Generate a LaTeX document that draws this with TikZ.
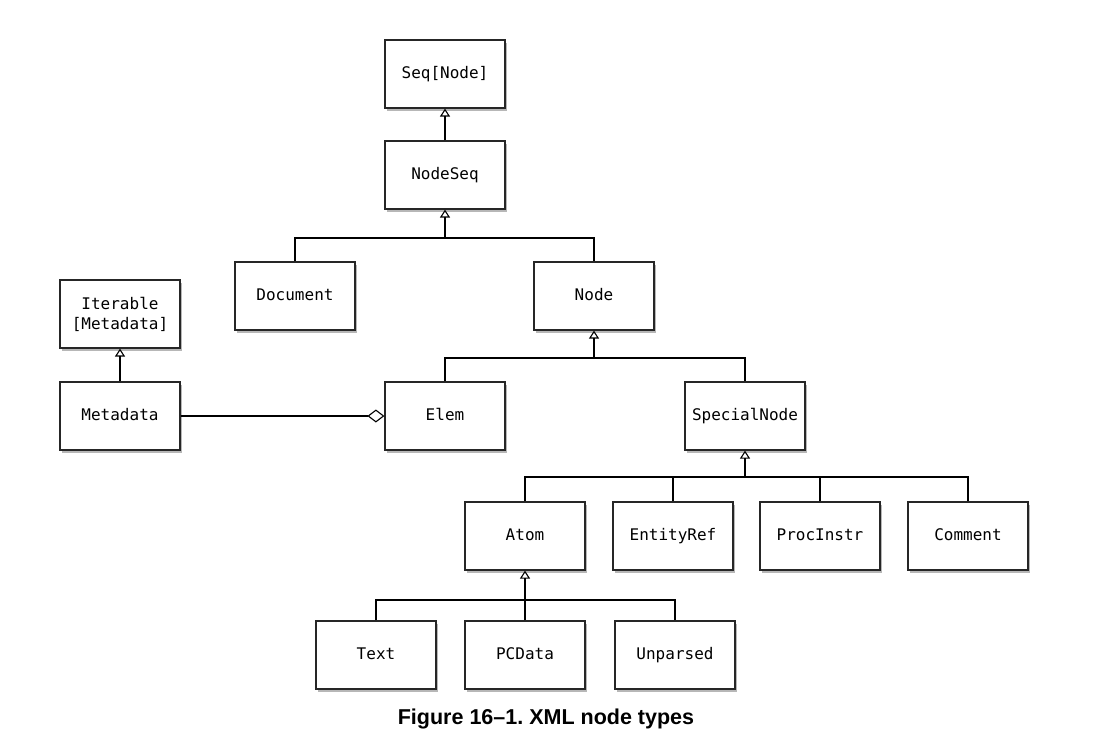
\documentclass[tikz,border=0pt]{standalone}
\usepackage{fontspec}
\setmainfont{Liberation Sans}
\newfontfamily\boxfont{DejaVu Sans Mono}
\usepackage{tikz}
\usetikzlibrary{arrows.meta,shadows}
\frenchspacing

\begin{document}
\begin{tikzpicture}[x=1pt, y=-1pt,
    cls/.style={draw=black!85, line width=1.2pt, fill=white,
      minimum width=120pt, minimum height=68pt, align=center,
      text height=12pt, text depth=3.5pt,
      font=\boxfont\fontsize{16}{20}\selectfont,
      drop shadow={shadow xshift=2pt, shadow yshift=-3pt, opacity=0.4, fill=black!70}},
    twoline/.style={text height=, text depth=},
    inh/.style={line width=1.1pt, -{Triangle[open, width=10pt, length=8pt]}},
    agg/.style={line width=1.1pt, -{Diamond[open, width=13pt, length=17pt]}},
    bus/.style={line width=1.1pt}]
  \useasboundingbox (0,0) rectangle (1101,743);
  \node[cls] (seq) at (445, 74) {Seq[Node]};
  \node[cls] (nodeseq) at (445, 175) {NodeSeq};
  \node[cls] (document) at (295, 296) {Document};
  \node[cls] (node) at (594, 296) {Node};
  \node[cls, twoline] (iterable) at (120, 314) {Iterable\\{}[Metadata]};
  \node[cls] (metadata) at (120, 416) {Metadata};
  \node[cls] (elem) at (445, 416) {Elem};
  \node[cls] (special) at (745, 416) {SpecialNode};
  \node[cls] (atom) at (525, 536) {Atom};
  \node[cls] (entity) at (673, 536) {EntityRef};
  \node[cls] (procinstr) at (820, 536) {ProcInstr};
  \node[cls] (comment) at (968, 536) {Comment};
  \node[cls] (text) at (376, 655) {Text};
  \node[cls] (pcdata) at (525, 655) {PCData};
  \node[cls] (unparsed) at (675, 655) {Unparsed};
  \coordinate (b1) at (445, 238);
  \coordinate (b2) at (594, 358);
  \coordinate (b3) at (745, 477);
  \coordinate (b4) at (525, 600);
  \draw[inh] (nodeseq) -- (seq);
  \draw[bus] (document.north) |- (b1) -| (node.north);
  \draw[inh] (b1) -- (nodeseq);
  \draw[bus] (elem.north) |- (b2) -| (special.north);
  \draw[inh] (b2) -- (node);
  \draw[bus] (atom.north) |- (b3) -| (comment.north);
  \draw[bus] (entity.north) -- (entity.north |- b3);
  \draw[bus] (procinstr.north) -- (procinstr.north |- b3);
  \draw[inh] (b3) -- (special);
  \draw[bus] (text.north) |- (b4) -| (unparsed.north);
  \draw[inh] (pcdata) -- (atom);
  \draw[inh] (metadata) -- (iterable);
  \draw[agg] (metadata) -- (elem);
  \node[font=\bfseries\fontsize{21.5}{24}\selectfont] (caption) at (546, 719) {Figure 16--1. XML node types};
\end{tikzpicture}
\end{document}
